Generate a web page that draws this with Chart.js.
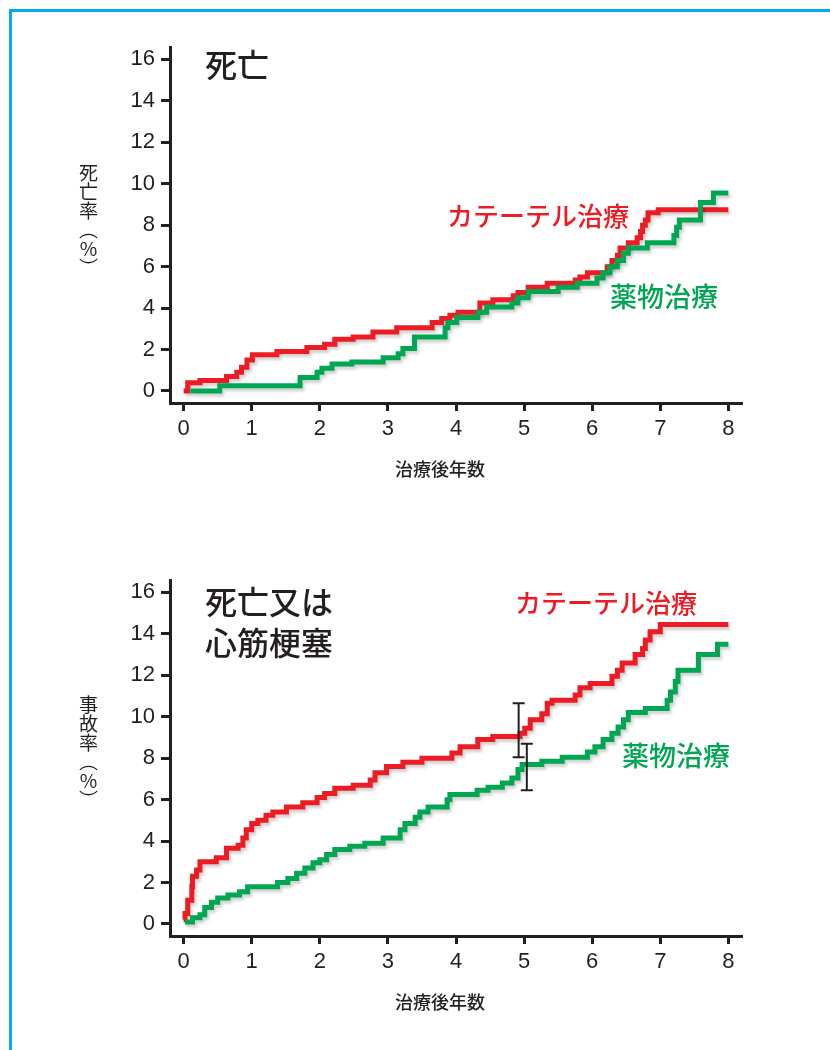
<!DOCTYPE html>
<html lang="ja">
<head>
<meta charset="utf-8">
<script src="https://cdn.jsdelivr.net/npm/chart.js@4.4.1/dist/chart.umd.min.js"></script>
<style>
    html, body { margin: 0; padding: 0; background: #fff; }
    body { width: 830px; height: 1050px; position: relative; overflow: hidden; font-family: "Noto Sans CJK JP", sans-serif; color: #231f20; }
    .frame-top { position: absolute; left: 9px; top: 9px; width: 821px; height: 3px; background: #00aeef; }
    .frame-left { position: absolute; left: 9px; top: 9px; width: 3px; height: 1041px; background: #00aeef; }
    canvas { position: absolute; left: 0; }
    .txt { position: absolute; line-height: 1; white-space: nowrap; }
    .title { font-size: 32px; font-weight: 500; }
    .red { color: #ed1c24; font-size: 26px; font-weight: 500; }
    .green { color: #00a651; font-size: 27px; font-weight: 500; }
    .ytitle { writing-mode: vertical-rl; text-orientation: upright; font-size: 19px; }
    .xtitle { font-size: 18px; font-weight: 500; }
</style>
</head>
<body>
<div class="frame-top"></div>
<div class="frame-left"></div>

<canvas id="deathChart" width="830" height="500" style="top:0"></canvas>
<canvas id="eventChart" width="830" height="500" style="top:533px"></canvas>

<div class="txt title" style="left:205px; top:47px">死亡</div>
<div class="txt red" style="left:447px; top:202px">カテーテル治療</div>
<div class="txt green" style="left:610px; top:282px">薬物治療</div>
<div class="txt ytitle" style="left:79px; top:163px">死亡率（%）</div>
<div class="txt xtitle" style="left:395px; top:459px">治療後年数</div>

<div class="txt title" style="left:205px; top:580px; line-height:41px">死亡又は<br>心筋梗塞</div>
<div class="txt red" style="left:515px; top:589px">カテーテル治療</div>
<div class="txt green" style="left:622px; top:741px">薬物治療</div>
<div class="txt ytitle" style="left:79px; top:695px">事故率（%）</div>
<div class="txt xtitle" style="left:395px; top:992px">治療後年数</div>

<script>
const xTicks = [0, 1, 2, 3, 4, 5, 6, 7, 8];
const yTicks = [0, 2, 4, 6, 8, 10, 12, 14, 16];

// 死亡 (years after treatment, cumulative %)
const deathCathT = [0, 0.06, 0.24, 0.63, 0.78, 0.85, 0.93, 1.01, 1.37, 1.81, 2.07, 2.22, 2.49, 2.78, 3.13, 3.65, 3.79, 3.91, 4.03, 4.35, 4.54, 4.84, 4.91, 5.06, 5.34, 5.75, 5.82, 5.93, 6.22, 6.29, 6.37, 6.41, 6.53, 6.66, 6.71, 6.74, 6.78, 6.82, 6.97, 8.0];
const deathCathV = [0, 0.4, 0.5, 0.7, 0.9, 1.15, 1.5, 1.75, 1.9, 2.1, 2.25, 2.5, 2.6, 2.85, 3.05, 3.3, 3.5, 3.65, 3.8, 4.25, 4.4, 4.6, 4.75, 5.0, 5.2, 5.35, 5.5, 5.7, 6.0, 6.3, 6.55, 6.9, 7.15, 7.4, 7.7, 8.0, 8.25, 8.6, 8.75, 8.75];
const deathDrugT = [0.1, 0.53, 1.71, 1.96, 2.03, 2.18, 2.47, 2.93, 3.15, 3.22, 3.39, 3.84, 3.88, 4.01, 4.32, 4.45, 4.82, 4.91, 5.06, 5.5, 5.78, 6.07, 6.16, 6.26, 6.37, 6.46, 6.53, 6.81, 7.2, 7.24, 7.28, 7.59, 7.78, 8.0];
const deathDrugV = [0, 0.25, 0.65, 0.9, 1.1, 1.3, 1.4, 1.6, 1.8, 2.05, 2.6, 3.05, 3.3, 3.55, 3.8, 4.05, 4.25, 4.5, 4.8, 5.0, 5.2, 5.45, 5.7, 6.0, 6.3, 6.65, 6.9, 7.15, 7.5, 7.9, 8.25, 9.1, 9.55, 9.55];

// 死亡又は心筋梗塞
const eventCathT = [0, 0.02, 0.06, 0.12, 0.13, 0.19, 0.24, 0.48, 0.63, 0.8, 0.87, 0.92, 1.0, 1.09, 1.21, 1.31, 1.51, 1.75, 1.96, 2.07, 2.22, 2.49, 2.74, 2.81, 2.98, 3.22, 3.5, 3.94, 4.06, 4.32, 4.54, 4.94, 5.01, 5.09, 5.26, 5.34, 5.41, 5.75, 5.82, 5.97, 6.29, 6.37, 6.44, 6.63, 6.74, 6.78, 6.85, 7.0, 8.0];
const eventCathV = [0.2, 0.5, 1.15, 1.8, 2.3, 2.6, 3.0, 3.2, 3.65, 3.8, 4.15, 4.55, 4.85, 5.0, 5.25, 5.4, 5.65, 5.85, 6.1, 6.3, 6.55, 6.7, 6.95, 7.3, 7.6, 7.8, 8.0, 8.25, 8.55, 8.9, 9.05, 9.2, 9.45, 9.85, 10.15, 10.65, 10.8, 11.05, 11.4, 11.6, 11.95, 12.25, 12.6, 13.0, 13.3, 13.7, 14.1, 14.45, 14.45];
const eventDrugT = [0.02, 0.13, 0.24, 0.31, 0.41, 0.5, 0.65, 0.82, 0.94, 1.38, 1.53, 1.66, 1.78, 1.9, 2.0, 2.1, 2.22, 2.44, 2.66, 2.93, 3.18, 3.25, 3.4, 3.47, 3.59, 3.87, 3.91, 4.31, 4.47, 4.68, 4.82, 4.91, 4.97, 5.26, 5.56, 5.93, 6.04, 6.16, 6.29, 6.38, 6.46, 6.53, 6.78, 7.1, 7.15, 7.22, 7.26, 7.56, 7.84, 8.0];
const eventDrugV = [0.1, 0.3, 0.45, 0.8, 1.05, 1.25, 1.4, 1.55, 1.8, 2.0, 2.2, 2.45, 2.7, 2.95, 3.1, 3.35, 3.6, 3.75, 3.9, 4.15, 4.55, 4.85, 5.15, 5.4, 5.65, 6.0, 6.25, 6.45, 6.6, 6.8, 7.05, 7.45, 7.7, 7.85, 8.05, 8.3, 8.55, 8.9, 9.2, 9.5, 9.85, 10.2, 10.4, 10.8, 11.2, 11.7, 12.25, 13.0, 13.5, 13.5];

// confidence intervals at ~5 years (bottom chart)
const ciT = [4.92, 5.04];
const ciLow = [8.05, 6.45];
const ciHigh = [10.65, 8.7];

const RED = '#ed1c24';
const GREEN = '#00a651';
const INK = '#231f20';

function toPoints(ts, vs) {
    return ts.map((t, i) => ({ x: t, y: vs[i] }));
}

function curve(ts, vs, color) {
    return {
        data: toPoints(ts, vs),
        showLine: true,
        stepped: 'before',
        borderColor: color,
        backgroundColor: color,
        borderWidth: 5,
        borderJoinStyle: 'miter',
        borderCapStyle: 'butt',
        pointRadius: 0,
        fill: false
    };
}

// soft drop shadow under the curves
const shadowPlugin = {
    id: 'shadow',
    beforeDatasetsDraw(chart) {
        const ctx = chart.ctx;
        ctx.save();
        ctx.shadowColor = 'rgba(0,0,0,0.18)';
        ctx.shadowBlur = 3;
        ctx.shadowOffsetX = 2;
        ctx.shadowOffsetY = 3;
    },
    afterDatasetsDraw(chart) {
        chart.ctx.restore();
    }
};

const errorBarPlugin = {
    id: 'errorBars',
    afterDatasetsDraw(chart, args, opts) {
        if (!opts.show) return;
        const ctx = chart.ctx;
        const xs = chart.scales.x, ys = chart.scales.y;
        ctx.save();
        ctx.strokeStyle = INK;
        ctx.lineWidth = 2;
        ciT.forEach((t, i) => {
            const px = xs.getPixelForValue(t);
            const lo = ys.getPixelForValue(ciLow[i]);
            const hi = ys.getPixelForValue(ciHigh[i]);
            ctx.beginPath();
            ctx.moveTo(px, lo); ctx.lineTo(px, hi);
            ctx.moveTo(px - 6, lo); ctx.lineTo(px + 6, lo);
            ctx.moveTo(px - 6, hi); ctx.lineTo(px + 6, hi);
            ctx.stroke();
        });
        ctx.restore();
    }
};

function makeChart(id, datasets, showCI) {
    const ctx = document.getElementById(id).getContext('2d');
    return new Chart(ctx, {
        type: 'scatter',
        data: { datasets: datasets },
        options: {
            responsive: false,
            animation: false,
            devicePixelRatio: 1,
            layout: { padding: { left: 100, right: 88, top: 47, bottom: 47 } },
            plugins: {
                legend: { display: false },
                tooltip: { enabled: false },
                errorBars: { show: showCI }
            },
            scales: {
                x: {
                    type: 'linear',
                    min: -0.2,
                    max: 8.2,
                    afterBuildTicks: s => { s.ticks = xTicks.map(v => ({ value: v })); },
                    afterFit: s => { s.height = 50; },
                    ticks: { font: { size: 22, family: 'Liberation Sans' }, color: INK, padding: 5, maxRotation: 0 },
                    grid: { drawOnChartArea: false, drawTicks: true, tickLength: 8, tickWidth: 3, tickColor: INK },
                    border: { display: true, width: 3, color: INK }
                },
                y: {
                    type: 'linear',
                    min: -0.58,
                    max: 16.6,
                    afterBuildTicks: s => { s.ticks = yTicks.map(v => ({ value: v })); },
                    afterFit: s => { s.width = 70; },
                    ticks: { font: { size: 22, family: 'Liberation Sans' }, color: INK, padding: 6 },
                    grid: { drawOnChartArea: false, drawTicks: true, tickLength: 9, tickWidth: 3, tickColor: INK },
                    border: { display: true, width: 3, color: INK }
                }
            }
        },
        plugins: [shadowPlugin, errorBarPlugin]
    });
}

makeChart('deathChart', [
    curve(deathDrugT, deathDrugV, GREEN),
    curve(deathCathT, deathCathV, RED)
], false);

makeChart('eventChart', [
    curve(eventDrugT, eventDrugV, GREEN),
    curve(eventCathT, eventCathV, RED)
], true);
</script>
</body>
</html>
